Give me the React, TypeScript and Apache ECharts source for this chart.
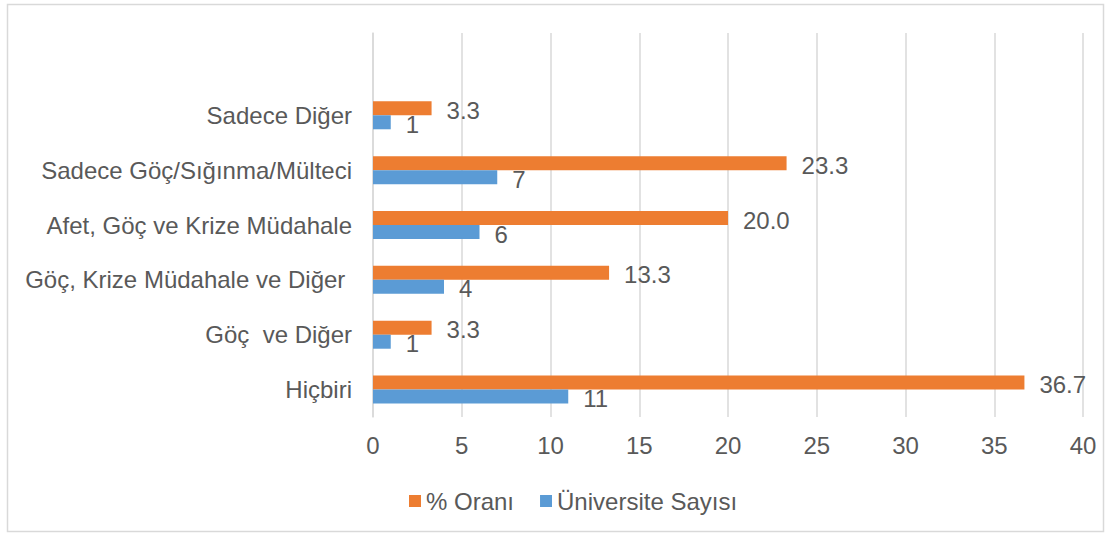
import React, { useEffect, useRef } from "react";
import * as echarts from "echarts";

const categories = [
  "Hiçbiri",
  "Göç  ve Diğer",
  "Göç, Krize Müdahale ve Diğer ",
  "Afet, Göç ve Krize Müdahale",
  "Sadece Göç/Sığınma/Mülteci",
  "Sadece Diğer",
  "",
];
const oranValues = [36.7, 3.3, 13.3, 20.0, 23.3, 3.3, null];
const sayiValues = [11, 1, 4, 6, 7, 1, null];
const seriesNames = ["% Oranı", "Üniversite Sayısı"];

const FONT = "'Liberation Sans', Arial, sans-serif";
const TEXT = "#595959";
const FS = 24;

export default function App() {
  const ref = useRef<HTMLDivElement>(null);
  useEffect(() => {
    document.body.style.margin = "0";
    const chart = echarts.init(ref.current!, null, { renderer: "svg" });
    const labelStyle = {
      show: true,
      position: "right",
      distance: 15,
      color: TEXT,
      fontSize: FS,
      fontFamily: FONT,
      offset: [0, 2],
    };
    chart.setOption({
      animation: false,
      backgroundColor: "#fff",
      textStyle: { fontFamily: FONT },
      graphic: [
        {
          type: "rect",
          shape: { x: 7.5, y: 4.5, width: 1096, height: 527 },
          style: { fill: "none", stroke: "#d9d9d9", lineWidth: 1.5 },
          silent: true,
        },
      ],
      legend: {
        left: 404,
        top: 484,
        itemWidth: 12,
        itemHeight: 12,
        itemGap: 26,
        icon: "rect",
        data: seriesNames,
        textStyle: { color: TEXT, fontSize: FS, fontFamily: FONT },
      },
      grid: { left: 373, right: 28, top: 33, bottom: 117, containLabel: false },
      xAxis: {
        type: "value",
        min: 0,
        max: 40,
        interval: 5,
        axisLine: { show: false },
        axisTick: { show: false },
        splitLine: { lineStyle: { color: "#d9d9d9", width: 1.5 } },
        axisLabel: { color: TEXT, fontSize: FS, fontFamily: FONT, margin: 16 },
      },
      yAxis: {
        type: "category",
        data: categories,
        axisLine: { show: true, lineStyle: { color: "#d9d9d9", width: 1.5 } },
        axisTick: { show: false },
        axisLabel: { color: TEXT, fontSize: FS, fontFamily: FONT, margin: 21 },
      },
      series: [
        {
          name: seriesNames[0],
          type: "bar",
          data: oranValues,
          barWidth: 14,
          barGap: "0%",
          itemStyle: { color: "#ED7D31" },
          label: { ...labelStyle, formatter: (p: any) => Number(p.value).toFixed(1) },
        },
        {
          name: seriesNames[1],
          type: "bar",
          data: sayiValues,
          barWidth: 14,
          barGap: "0%",
          itemStyle: { color: "#5B9BD5" },
          label: { ...labelStyle },
        },
      ],
    });
    return () => chart.dispose();
  }, []);
  return <div ref={ref} style={{ width: 1111, height: 534 }} />;
}
